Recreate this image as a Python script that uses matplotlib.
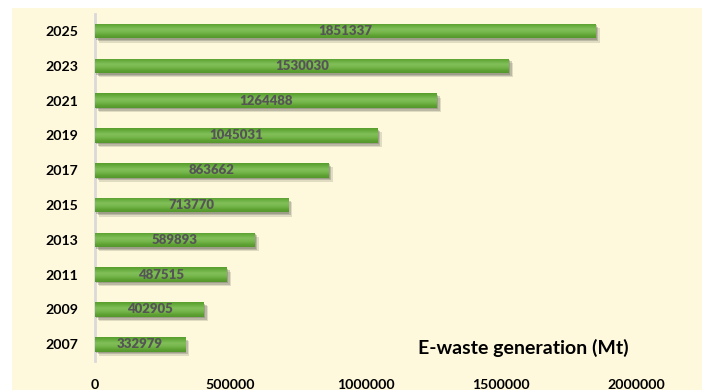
import numpy as np
import matplotlib
matplotlib.use("Agg")
import matplotlib.pyplot as plt
import matplotlib.patheffects as pe
from matplotlib.patches import Rectangle
from matplotlib.colors import LinearSegmentedColormap

years = ["2007", "2009", "2011", "2013", "2015", "2017", "2019", "2021", "2023", "2025"]
ewaste = [332979, 402905, 487515, 589893, 713770, 863662, 1045031, 1264488, 1530030, 1851337]
xticks = [0, 500000, 1000000, 1500000, 2000000]
axis_title = "E-waste generation (Mt)"

plt.rcParams["font.family"] = ["Lato", "DejaVu Sans"]

fig = plt.figure(figsize=(7.02, 3.9), dpi=100)
fig.patch.set_facecolor("white")

# cream panel behind the chart
fig.patches.append(Rectangle((12 / 702, 0), 1 - 12 / 702, 1 - 8 / 390,
                             transform=fig.transFigure, facecolor="#FEF9DC",
                             edgecolor="none", zorder=-10))

ax = fig.add_axes([95 / 702, 1 - 361 / 390, (690 - 95) / 702, (361 - 14) / 390])
ax.set_facecolor("none")
ax.set_zorder(1)

bar_h = 0.42
ypos = np.arange(len(years))
bars = ax.barh(ypos, ewaste, height=bar_h, color="#6aab3c", zorder=3,
               path_effects=[pe.SimplePatchShadow(offset=(3, -3), shadow_rgbFace="#9a9a88", alpha=0.3),
                             pe.SimplePatchShadow(offset=(2, -2), shadow_rgbFace="#7a7a6a", alpha=0.35),
                             pe.SimplePatchShadow(offset=(1, -1), shadow_rgbFace="#6a6a5a", alpha=0.35),
                             pe.Normal()])

# vertical shading across each bar
green = LinearSegmentedColormap.from_list(
    "bar_green", ["#579e2c", "#6aae40", "#82bf5a", "#78b84e", "#62a536", "#53962a"])
grad = np.linspace(0, 1, 64).reshape(-1, 1)
for b in bars:
    x0, y0 = b.get_x(), b.get_y()
    w, h = b.get_width(), b.get_height()
    im = ax.imshow(grad, cmap=green, aspect="auto", origin="upper",
                   extent=(x0, x0 + w, y0, y0 + h), zorder=4, interpolation="bilinear")
    im.set_clip_path(b)

for y, v in zip(ypos, ewaste):
    ax.text(v / 2, y, f"{v}", ha="center", va="center", fontsize=9.5,
            fontweight="heavy", color="#555555", zorder=5)

ax.set_xlim(0, 2200000)
ax.set_ylim(-0.48, 9.49)
ax.set_xticks(xticks)
ax.set_xticklabels([str(t) for t in xticks], fontsize=10.2, fontweight="bold", color="black")
ax.set_yticks(ypos)
ax.set_yticklabels(years, fontsize=10.2, fontweight="bold", color="black")
ax.tick_params(axis="both", length=0)
ax.tick_params(axis="x", pad=13)
ax.tick_params(axis="y", pad=12)

for s in ["top", "right", "bottom"]:
    ax.spines[s].set_visible(False)
ax.spines["left"].set_color("#d9d9d9")
ax.spines["left"].set_linewidth(2)

ax.text(0.543, 0.037, axis_title, transform=ax.transAxes, fontsize=14,
        fontweight="bold", color="black", ha="left", va="center", zorder=6)

fig.savefig("out.png", dpi=100, facecolor=fig.get_facecolor())
